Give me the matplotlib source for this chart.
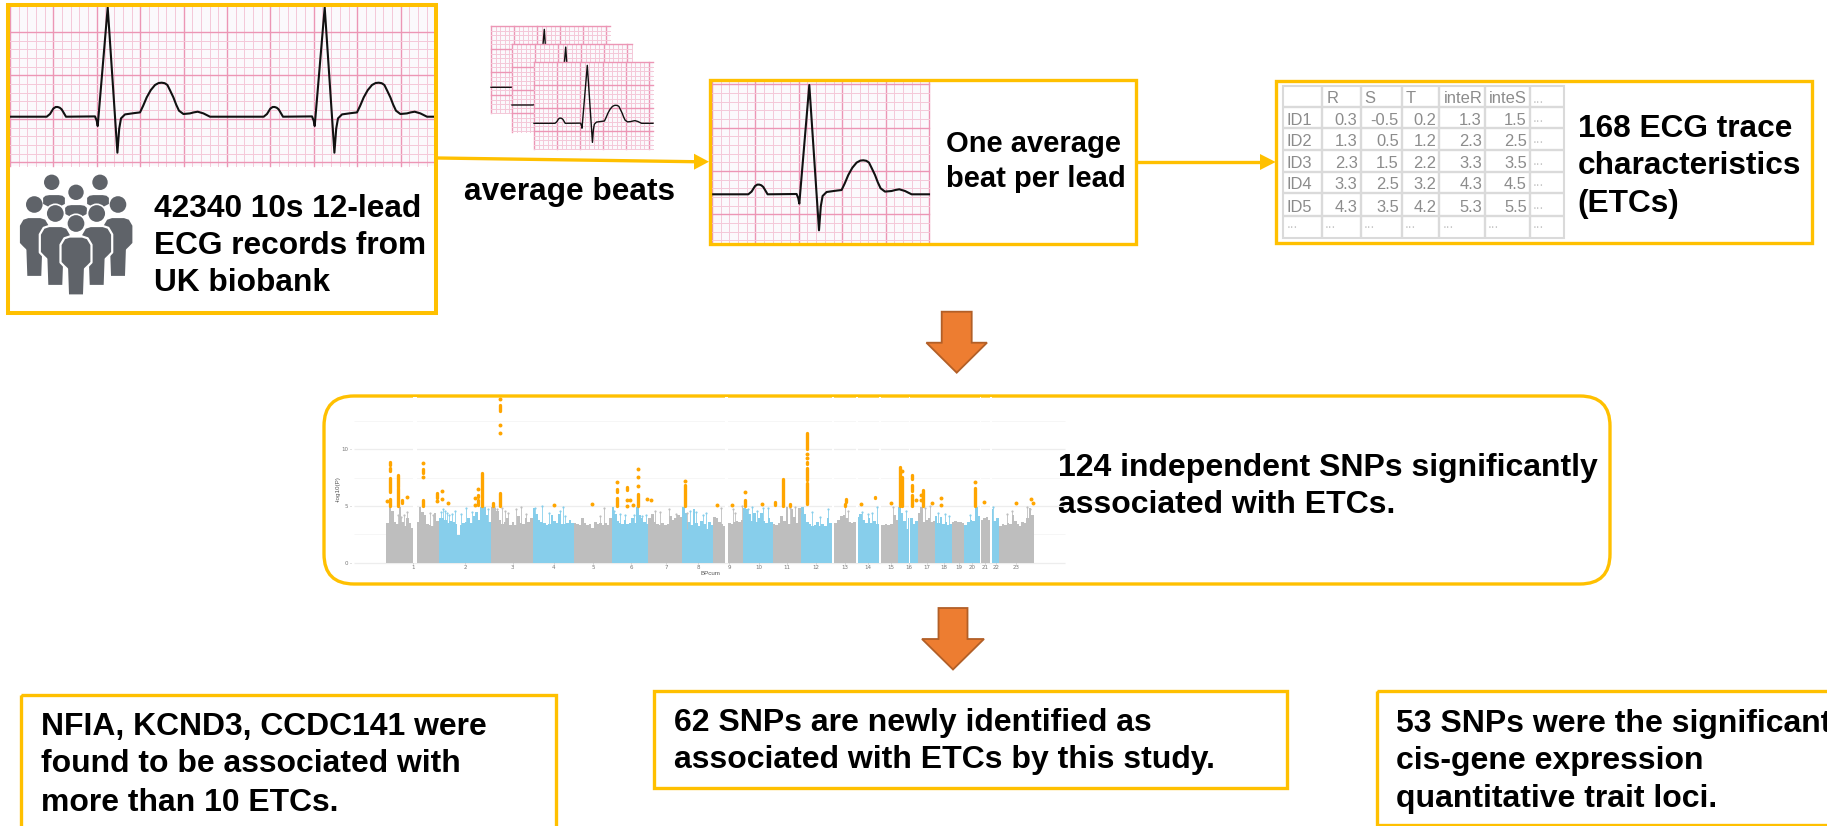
import numpy as np
import matplotlib
matplotlib.use("Agg")
import matplotlib.pyplot as plt
from matplotlib.patches import Rectangle, Polygon, Circle, FancyBboxPatch

W, H = 1827, 826
YELLOW = "#FFC000"
FONT = "Liberation Sans"

# --- one heart beat, px relative to the R peak / baseline
beat_dx = [-61, -57.7, -54.3, -52, -50, -48, -46, -41.7, -12.7, -11, -10, 0, 9.7, 11.5, 13.3, 17.3, 27.3, 32.3,
           35.5, 39, 43, 47.3, 51, 54, 57, 59.7, 62.5, 65.7, 68.5, 71.3, 75.7, 82.3, 86, 90, 95.7, 102.3]
beat_dy = [0, 2.7, 8.2, 9.7, 9.7, 9, 7.3, 0, 0.3, -4, -9.3, 109.3, -36, -12, -1.7, 2.3, 3.7, 4.3,
           11, 19.3, 26.5, 31.7, 33.7, 34, 33.5, 31.7, 26, 19.3, 12, 6, 2.7, 3.3, 4.3, 5, 3.3, 0]

# --- table
table_cols = ["", "R", "S", "T", "inteR", "inteS", "..."]
table_ids = ["ID1", "ID2", "ID3", "ID4", "ID5"]
table_R = ["0.3", "1.3", "2.3", "3.3", "4.3"]
table_S = ["-0.5", "0.5", "1.5", "2.5", "3.5"]
table_T = ["0.2", "1.2", "2.2", "3.2", "4.2"]
table_inteR = ["1.3", "2.3", "3.3", "4.3", "5.3"]
table_inteS = ["1.5", "2.5", "3.5", "4.5", "5.5"]

# --- manhattan plot: chromosomes
chrom_names = [str(i) for i in range(1, 24)]
chrom_edges = [386, 439, 490.7, 532.7, 573.7, 611.7, 648.3, 682.3, 713.3, 743.3, 772.7, 801, 831.7,
               856, 879, 898.3, 917.7, 935, 951.7, 964, 980.5, 990.5, 999.3, 1033.7]
chrom_ticks = [413, 465, 512.7, 553.7, 593, 631, 666, 698, 729, 758.7, 787, 816, 845, 868, 890.7,
               909, 927, 944, 958.7, 971.7, 985, 995.7, 1016.3]
chrom_gaps = [(413.3, 416.7), (725, 728), (831.7, 833.7), (856, 858.3), (879, 881.3), (908.5, 909.5),
              (980, 981), (990, 991.7)]
chrom_tops = [
    [3.5, 4.9, 4.6, 3.6, 3.4, 4.9, 3.6, 3.2, 3.9, 3.5, 3.1, 3.0, 3.6, 4.9, 4.5, 4.2, 3.4, 3.3, 3.2, 4.4, 3.7],
    [3.9, 3.9, 3.8, 3.5, 3.7, 3.6, 3.4, 2.4, 3.3, 3.5, 3.6, 3.9, 3.5, 4.1, 4.5, 3.8, 4.9, 4.9, 4.2, 3.6],
    [4.9, 4.8, 4.6, 3.8, 3.4, 3.6, 3.9, 3.3, 3.6, 3.3, 4.1, 3.5, 3.4, 3.9, 3.6, 3.9],
    [4.8, 4.3, 3.8, 3.6, 3.5, 3.3, 3.4, 4.2, 3.7, 3.5, 4.3, 3.4, 3.4, 3.5, 3.8, 3.5],
    [3.5, 3.4, 3.3, 3.9, 3.5, 3.3, 3.4, 3.1, 3.6, 3.4, 3.5, 3.3, 3.5, 3.3, 3.9],
    [4.9, 4.3, 3.7, 3.5, 3.4, 3.8, 3.4, 3.5, 3.9, 3.5, 4.9, 4.2, 3.9, 3.6, 3.4],
    [3.9, 4.3, 3.6, 3.4, 3.3, 3.5, 3.3, 3.4, 4.1, 3.8, 3.9, 4.2, 4.0],
    [4.9, 4.4, 3.6, 3.3, 4.7, 3.5, 3.2, 3.7, 3.4, 3.0, 3.6, 3.3],
    [4.0, 3.9, 3.6, 3.4, 3.2, 3.4, 3.5, 3.4, 3.6, 3.7, 3.6, 3.8],
    [4.8, 4.7, 4.3, 3.7, 4.4, 3.6, 3.9, 4.4, 3.7, 3.5, 3.9, 3.6],
    [3.4, 3.3, 3.5, 4.1, 3.7, 4.9, 3.4, 4.7, 4.0, 3.5, 4.8],
    [4.9, 4.3, 3.6, 3.4, 3.2, 3.3, 3.6, 3.2, 3.4, 3.2, 3.9, 3.5],
    [3.3, 3.5, 3.8, 4.1, 4.2, 3.9, 3.6, 3.5, 3.6],
    [4.0, 4.3, 3.8, 3.5, 3.9, 3.5, 3.7, 3.4],
    [3.3, 3.3, 3.4, 3.3, 3.4, 4.2, 3.8],
    [4.9, 4.4, 3.7, 3.0, 3.9, 3.9, 3.4, 3.7],
    [4.4, 4.9, 3.6, 3.8, 3.9, 3.6, 3.7],
    [4.1, 3.5, 4.0, 3.4, 3.6, 3.3, 3.4],
    [3.6, 3.7, 3.6, 3.6, 3.5],
    [3.3, 3.6, 3.8, 3.7, 4.9, 4.1],
    [3.8, 3.9, 4.0, 3.8],
    [4.7, 3.7, 3.9],
    [3.2, 3.4, 3.3, 3.5, 3.4, 4.2, 3.7, 3.4, 3.2, 3.6, 3.5, 3.9, 4.8, 4.2],
]

# loose points above the solid part
grey_x = [398, 401, 404, 407, 430, 433, 494, 497, 502, 505, 508, 516, 521, 526, 600, 604, 655, 660, 669, 676,
          687, 721, 733, 735, 742, 790, 795, 800, 845, 848, 893, 925, 930, 1007, 1012, 1027, 1030]
grey_y = [4.2, 4.0, 4.2, 4.5, 4.4, 4.2, 4.9, 4.7, 4.8, 4.6, 4.4, 4.7, 4.9, 4.3, 4.1, 4.8, 4.6, 4.5, 4.7, 4.3,
          4.4, 4.8, 4.7, 4.4, 5.0, 4.8, 4.9, 4.6, 5.1, 4.6, 4.9, 4.8, 5.0, 4.3, 4.6, 4.9, 4.7]
blue_x = [441, 443, 445, 447, 449, 452, 455, 461, 466, 472, 488, 535, 542, 549, 560, 563, 565, 614, 620, 625,
          634, 642, 646, 690, 696, 703, 706, 748, 752, 757, 763, 768, 812, 820, 828, 862, 868, 872, 877, 906,
          938, 945, 949, 970, 976, 993]
blue_y = [4.5, 4.7, 4.6, 4.4, 4.2, 4.3, 4.6, 4.3, 4.8, 4.5, 4.7, 4.8, 5.0, 4.4, 4.6, 4.9, 4.1, 4.6, 4.3, 4.2,
          4.2, 4.1, 4.2, 4.6, 4.5, 4.2, 4.4, 4.7, 4.9, 4.6, 4.8, 4.8, 4.5, 4.0, 4.7, 4.5, 4.3, 4.4, 4.9, 4.6,
          4.4, 4.3, 4.1, 4.2, 4.6, 4.9]

# orange hits: dense columns and single dots
seg_x = [390.3, 390.3, 390.3, 390.3, 398.3, 398.3, 402, 422.7, 422.7, 437.3, 478.3, 478.3, 482.3, 493, 500, 500,
         617, 617, 627, 638, 685.3, 745.3, 775, 783, 789.7, 807, 807, 807, 807, 844.7, 846.3, 875, 899.7, 902,
         912, 912, 912, 923.3, 975.3]
seg_lo = [8.6, 8.1, 6.24, 4.97, 6.7, 4.97, 5.27, 7.93, 4.97, 5.68, 5.77, 5.09, 4.97, 4.97, 13.37, 4.97,
          6.24, 4.97, 6.39, 4.97, 4.97, 4.97, 5.09, 4.97, 4.97, 10.06, 8.67, 7.25, 5.2, 4.97, 5.36, 5.71, 4.97, 4.97,
          7.4, 6.33, 5.03, 4.97, 4.97]
seg_hi = [8.9, 8.37, 7.46, 5.62, 7.7, 6.57, 5.56, 8.3, 5.56, 6.12, 6.0, 5.56, 7.87, 5.27, 13.93, 6.15,
          6.5, 5.71, 6.69, 6.07, 6.83, 5.56, 5.36, 7.4, 5.2, 11.48, 8.88, 8.37, 7.04, 5.2, 5.62, 5.8, 8.46, 7.57,
          7.75, 6.86, 5.95, 6.45, 6.6]
dot_x = [387.3, 407, 422.7, 422.7, 437.3, 442.3, 442.3, 447.7, 474.7, 474.7, 478.3, 500, 500, 500, 553.7, 592,
         617, 627, 627, 629.7, 633, 638, 638, 638, 647.3, 650.7, 685.3, 717.3, 732, 745.3, 761.7, 807, 807,
         861, 891.3, 902, 916.3, 921, 921, 932.3, 941.3, 941.3, 975.3, 984.3, 1015.7, 1031.3, 1032.7]
dot_y = [5.41, 5.83, 8.82, 7.54, 5.41, 6.3, 5.62, 5.24, 5.71, 5.09, 6.51, 14.44, 12.1, 11.45, 5.09, 5.18,
         7.16, 5.56, 5.03, 5.56, 5.09, 8.22, 7.6, 6.8, 5.59, 5.53, 7.19, 5.09, 5.12, 6.27, 5.18, 9.6, 9.26,
         5.15, 5.27, 8.08, 5.5, 6.0, 5.5, 5.27, 5.68, 5.12, 7.16, 5.38, 5.3, 5.65, 5.24]

fig = plt.figure(figsize=(W / 100, H / 100), dpi=100, facecolor="white")
ax = fig.add_axes([0, 0, 1, 1])
ax.set_xlim(0, W)
ax.set_ylim(H, 0)
ax.axis("off")

z = [1]


def nextz():
    z[0] += 1
    return z[0]


def say(x, baselines, lines, size=22.8):
    for y, s in zip(baselines, lines):
        ax.text(x, y, s, family=FONT, weight="bold", fontsize=size, color="black", va="baseline", ha="left", zorder=50)


def ecg_panel(x0, y0, x1, y1, scale, peaks, base, yoff=0.0):
    zz = nextz()
    clip = Rectangle((x0, y0), x1 - x0, y1 - y0, transform=ax.transData)
    ax.add_patch(Rectangle((x0, y0), x1 - x0, y1 - y0, fc="#FBF9FC", ec="none", zorder=zz))
    step = 43.4 * scale
    xs = np.arange(x0, x1 + 0.5, step / 5)
    ys = np.arange(y0 + yoff, y1 + 0.5, step / 5)
    for i, v in enumerate(xs):
        major = i % 5 == 0
        ax.plot([v, v], [y0, y1], color="#EC96B5" if major else "#F4C8D8", lw=1.0 if major else 0.7, zorder=zz,
                clip_path=clip)
    for i, v in enumerate(ys):
        major = i % 5 == 0
        ax.plot([x0, x1], [v, v], color="#EC96B5" if major else "#F4C8D8", lw=1.0 if major else 0.7, zorder=zz,
                clip_path=clip)
    tx = [x0]
    ty = [base]
    for p in peaks:
        tx += list(p + scale * np.array(beat_dx))
        ty += list(base - scale * np.array(beat_dy))
    tx.append(x1)
    ty.append(base)
    ax.plot(tx, ty, color="#111111", lw=1.5 if scale == 1 else 1.0, zorder=zz, clip_path=clip, solid_joinstyle="round")


def box(x0, y0, x1, y1, lw=2.4):
    ax.add_patch(Rectangle((x0, y0), x1 - x0, y1 - y0, fc="none", ec=YELLOW, lw=lw, zorder=40))


def link(x0, y0, x1, y1, tip):
    ax.plot([x0, x1], [y0, y1], color=YELLOW, lw=2.4, zorder=30, solid_capstyle="butt")
    ax.add_patch(Polygon([(x1, y1 - 8), (tip, y1), (x1, y1 + 8)], fc=YELLOW, ec="none", zorder=30))


def down_arrow(cx, top, neck, tip, shaft, head):
    pts = [(cx - shaft, top), (cx + shaft, top), (cx + shaft, neck), (cx + head, neck), (cx, tip), (cx - head, neck),
           (cx - shaft, neck)]
    ax.add_patch(Polygon(pts, fc="#ED7D31", ec="#B25F27", lw=1.3, zorder=30))


def person(cx, top, half, height):
    u = [-0.75, -0.4, 0.4, 0.75, 1, 1, 0.78, 0.58, 0.52, -0.52, -0.58, -0.78, -1, -1]
    v = [0.03, 0, 0, 0.03, 0.14, 0.44, 0.5, 0.55, 1, 1, 0.55, 0.5, 0.44, 0.14]
    pts = [(cx + a * half, top + b * height) for a, b in zip(u, v)]
    zz = nextz()
    ax.add_patch(Polygon(pts, fc="#5F6369", ec="white", lw=1.6, joinstyle="round", zorder=zz))


# people icon, back to front
ax.add_patch(Circle((51.7, 182.3), 7.7, fc="#5F6369", ec="none", zorder=nextz()))
ax.add_patch(Circle((100, 182.3), 7.7, fc="#5F6369", ec="none", zorder=nextz()))
person(54, 194, 12, 24)
person(98, 194, 12, 24)
ax.add_patch(Circle((76, 192.3), 7.7, fc="#5F6369", ec="none", zorder=nextz()))
person(76, 204, 12, 24)
for cx, hy, top, half, height in [(34.3, 204.5, 217, 15.5, 60), (118, 204.5, 217, 15.5, 60)]:
    ax.add_patch(Circle((cx, hy), 8.3, fc="#5F6369", ec="none", zorder=nextz()))
    person(cx, top, half, height)
for cx, hy, top, half, height in [(55.3, 213.5, 226, 15.5, 60), (96.7, 213.5, 226, 15.5, 60),
                                  (76, 223.5, 236.5, 15.5, 59)]:
    ax.add_patch(Circle((cx, hy), 9.2, fc="#5F6369", ec="white", lw=1.2, zorder=nextz()))
    person(cx, top, half, height)

# ECG panels
ecg_panel(10, 7, 436, 165.5, 1.0, [107.7, 324.7], 116.7, yoff=33.7 - 43.4 * 0.2)
ecg_panel(491, 26, 610, 113, 0.53, [544.3], 87.3)
ecg_panel(512, 44, 632, 132, 0.53, [565.7], 105)
ecg_panel(534, 62, 653, 149, 0.53, [587.3], 123.3)
ecg_panel(712, 82, 929, 242, 1.0, [809.3], 194.3, yoff=2.2)

# boxes and links
box(8, 5.3, 436.3, 312.7, lw=2.9)
box(710, 80, 1136, 244)
box(1276.3, 80.7, 1812, 243.3)
ax.add_patch(FancyBboxPatch((354, 426), 1226, 128, boxstyle="round,pad=30,rounding_size=30", fc="none", ec=YELLOW,
                            lw=2.4, zorder=40))
box(21, 694.7, 556, 840)
box(654, 690.7, 1287, 787.7)
box(1377, 690.7, 1900, 825)
link(438, 158, 694, 161.7, 709)
link(1137, 162, 1260, 162, 1275.7)
down_arrow(956.7, 311.7, 342.7, 372.7, 15, 30.3)
down_arrow(953, 608, 639, 669.5, 14.5, 31)

# table
col_x = [1283.5, 1322.2, 1360.5, 1401.8, 1439.4, 1485, 1529.8, 1563]
row_y = [86.7, 106.7, 128.3, 150, 171.7, 193.3, 215.7, 236.7]
base_y = [125, 146, 168.3, 189.3, 211.7]
ax.add_patch(Rectangle((col_x[0] - 1, row_y[0] - 1), col_x[-1] - col_x[0] + 2, row_y[-1] - row_y[0] + 2, fc="white",
                       ec="#DADADA", lw=1.5, zorder=20))
for v in col_x[1:-1]:
    ax.plot([v, v], [row_y[0], row_y[-1]], color="#DADADA", lw=1.7, zorder=20)
for v in row_y[1:-1]:
    ax.plot([col_x[0], col_x[-1]], [v, v], color="#DADADA", lw=1.7, zorder=20)
TXT = "#8C8C8C"
for c, name in enumerate(table_cols):
    if name == "...":
        ax.text(col_x[c] + 3, 102.7, name, family=FONT, fontsize=10, color="#C8C8C8", zorder=21)
    else:
        ax.text(col_x[c] + 4, 102.7, name, family=FONT, fontsize=11.9, color=TXT, zorder=21)
for i, y in enumerate(base_y):
    ax.text(col_x[0] + 3, y, table_ids[i], family=FONT, fontsize=11.9, color=TXT, zorder=21)
    for c, col in enumerate([table_R, table_S, table_T, table_inteR, table_inteS]):
        ax.text(col_x[c + 2] - 3, y, col[i], family=FONT, fontsize=11.9, color=TXT, ha="right", zorder=21)
    ax.text(col_x[6] + 3, y - 3, "...", family=FONT, fontsize=10, color="#C8C8C8", zorder=21)
for c in range(7):
    ax.text(col_x[c] + 3, 228, "...", family=FONT, fontsize=10, color="#C8C8C8", zorder=21)

# manhattan plot, its own axes
mx0, mx1, my0, my1 = 351, 1070, 397, 582
ax2 = fig.add_axes([mx0 / W, 1 - my1 / H, (mx1 - mx0) / W, (my1 - my0) / H], zorder=5)
ax2.patch.set_alpha(0)
ax2.set_xlim(mx0, mx1)
ax2.set_ylim((562.7 - my1) / 11.34, (562.7 - my0) / 11.34)
for s in ax2.spines.values():
    s.set_visible(False)
ax2.spines["bottom"].set_position(("data", 0))
ax2.hlines([0, 5, 10], 354, 1065, color="#EDEDED", lw=0.9, zorder=0)
ax2.hlines([2.5, 7.5, 12.5], 354, 1065, color="#F6F6F6", lw=0.7, zorder=0)
for i, tops in enumerate(chrom_tops):
    edges = np.linspace(chrom_edges[i], chrom_edges[i + 1], len(tops) + 1)
    ax2.stairs(tops, edges, fill=True, color="#BEBEBE" if i % 2 == 0 else "#87CEEB", lw=0, zorder=2)
for a, b in chrom_gaps:
    ax2.axvspan(a, b, ymin=0.105, color="white", lw=0, zorder=3)
ax2.vlines(grey_x, 3, grey_y, color="#BEBEBE", lw=0.6, zorder=3)
ax2.vlines(blue_x, 3, blue_y, color="#87CEEB", lw=0.6, zorder=3)
ax2.scatter(grey_x, grey_y, s=2.5, color="#BEBEBE", lw=0, zorder=3)
ax2.scatter(blue_x, blue_y, s=2.5, color="#87CEEB", lw=0, zorder=3)
ax2.vlines(seg_x, seg_lo, seg_hi, color="#FFA500", lw=2.4, capstyle="round", zorder=4)
ax2.scatter(dot_x, dot_y, s=8, color="#FFA500", lw=0, zorder=4)
ax2.set_xticks(chrom_ticks, chrom_names)
ax2.set_yticks([0, 5, 10], ["0", "5", "10"])
ax2.tick_params(axis="both", length=1, width=0.4, color="#999999", labelsize=4, labelcolor="#777777", pad=1)
ax2.set_xlabel("BPcum", fontsize=4.5, color="#555555", labelpad=0.5, family=FONT)
ax2.set_ylabel("-log10(P)", fontsize=4.5, color="#555555", labelpad=0.5, family=FONT)

# text
say(153.5, [216.7, 254, 291], ["42340 10s 12-lead", "ECG records from", "UK biobank"])
say(464, [200], ["average beats"])
say(945.7, [151.7, 186.7], ["One average", "beat per lead"], size=21)
say(1577.5, [136.7, 174, 211.7], ["168 ECG trace", "characteristics", "(ETCs)"])
say(1058.4, [476, 512.7], ["124 independent SNPs significantly", "associated with ETCs."], size=23.05)
say(41, [735, 772, 810.7], ["NFIA, KCND3, CCDC141 were", "found to be associated with", "more than 10 ETCs."], size=22.95)
say(673.6, [730.7, 768], ["62 SNPs are newly identified as", "associated with ETCs by this study."], size=23)
say(1396, [731.7, 769, 806.7], ["53 SNPs were the significant", "cis-gene expression", "quantitative trait loci."], size=23)

fig.savefig("out.png", dpi=100)
